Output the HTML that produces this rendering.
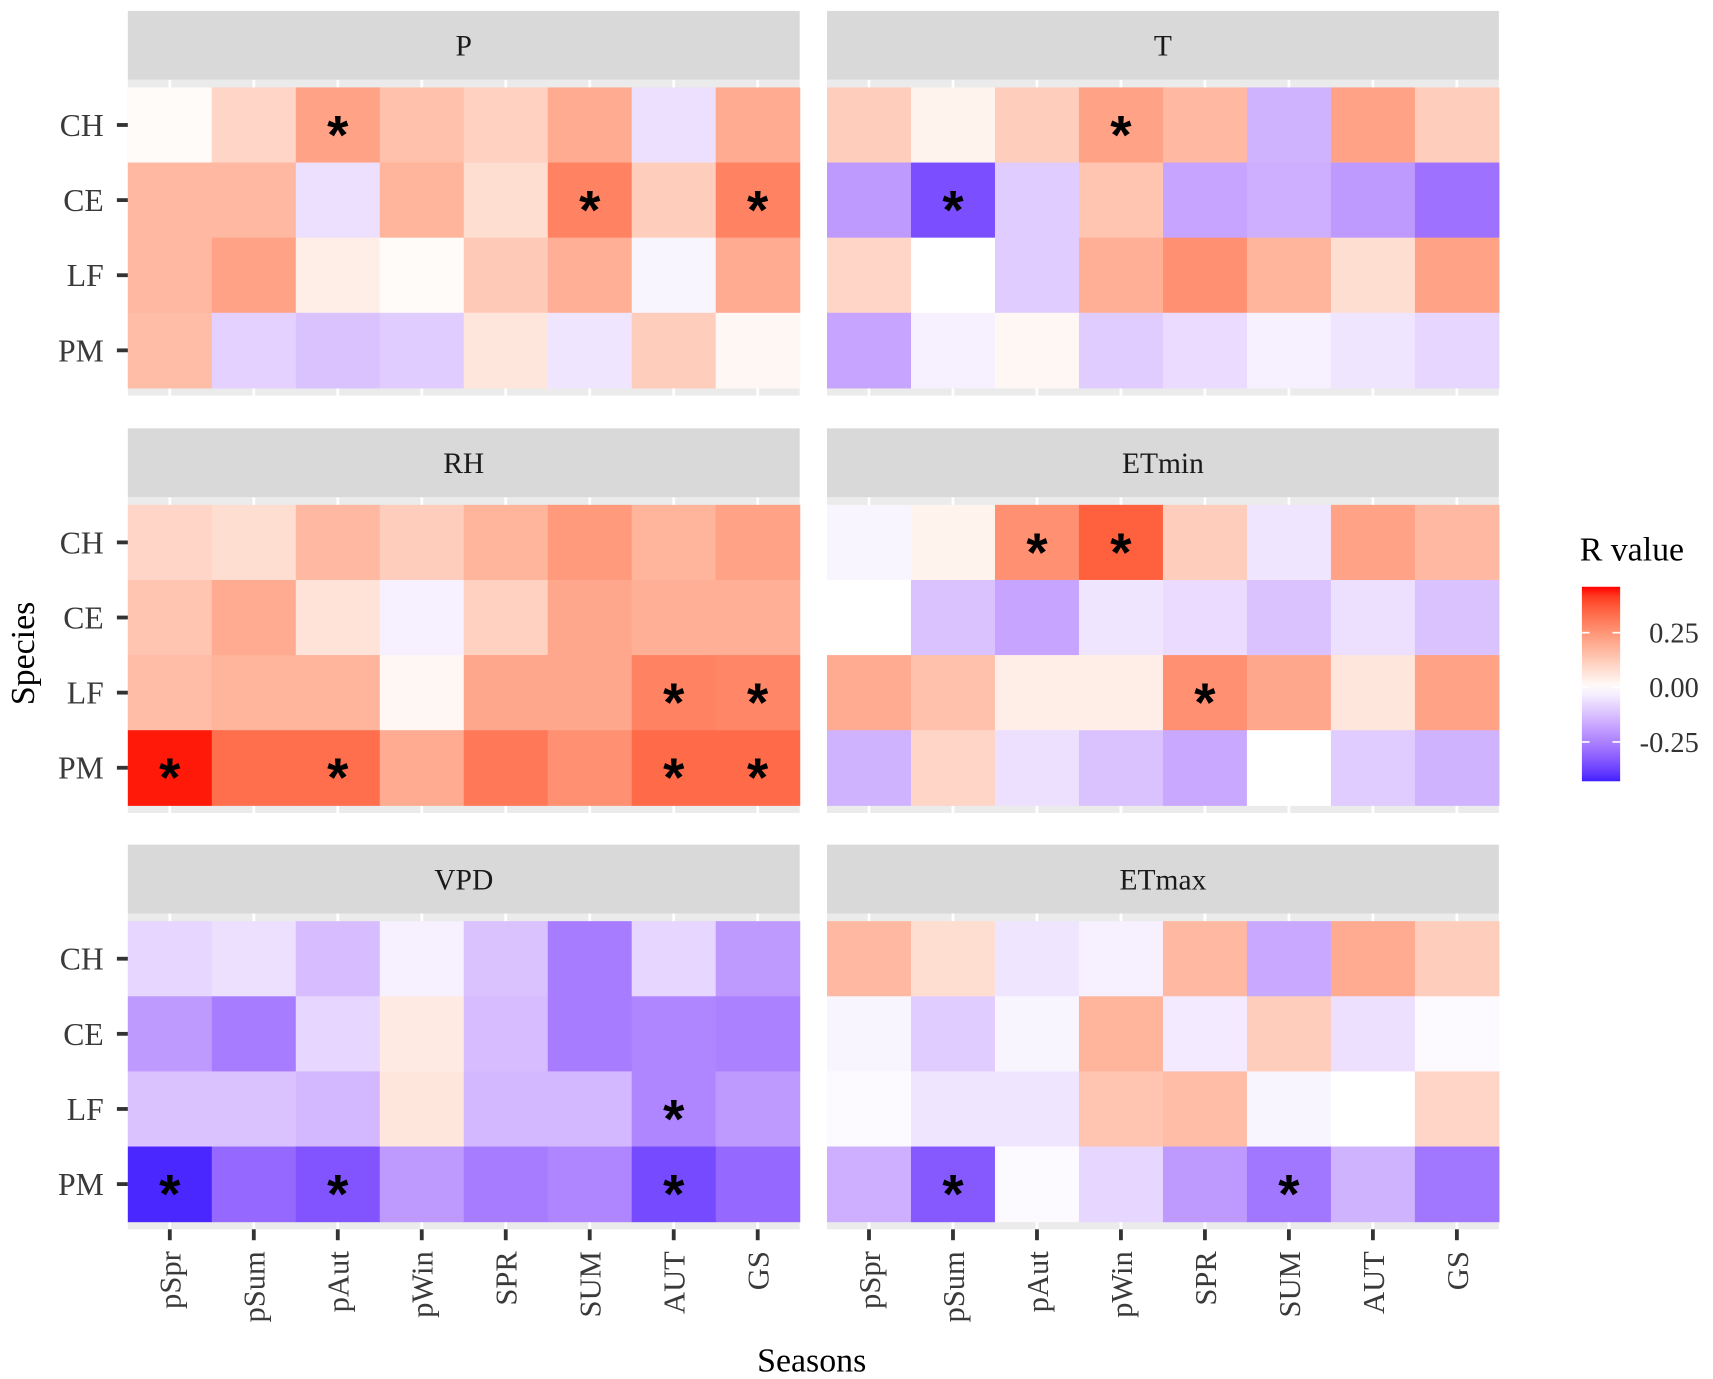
<!DOCTYPE html>
<html><head><meta charset="utf-8"><style>
html,body{margin:0;padding:0;background:#fff;}
svg{display:block;font-family:"Liberation Serif",serif;}
</style></head><body>
<svg id="chart" width="1713" height="1379" viewBox="0 0 1568 1262" preserveAspectRatio="none" xmlns="http://www.w3.org/2000/svg">
<defs><linearGradient id="lg" x1="0" y1="1" x2="0" y2="0"></linearGradient></defs>
</svg>
<script>
const seasons = ["pSpr","pSum","pAut","pWin","SPR","SUM","AUT","GS"];
const species = ["CH","CE","LF","PM"];
const panelNames = ["P","T","RH","ETmin","VPD","ETmax"];
const valsP = [[0.01,0.10,0.22,0.15,0.11,0.20,-0.06,0.20],[0.17,0.17,-0.06,0.18,0.08,0.29,0.12,0.29],[0.17,0.22,0.04,0.01,0.13,0.19,-0.02,0.20],[0.16,-0.09,-0.12,-0.10,0.06,-0.05,0.12,0.02]];
const valsT = [[0.12,0.03,0.12,0.22,0.17,-0.15,0.22,0.12],[-0.20,-0.35,-0.10,0.14,-0.18,-0.16,-0.20,-0.28],[0.10,0.00,-0.10,0.19,0.26,0.18,0.08,0.22],[-0.18,-0.03,0.02,-0.10,-0.07,-0.03,-0.05,-0.08]];
const valsRH = [[0.10,0.08,0.17,0.12,0.18,0.24,0.18,0.22],[0.14,0.20,0.07,-0.03,0.11,0.21,0.19,0.19],[0.16,0.18,0.18,0.02,0.21,0.21,0.29,0.28],[0.45,0.33,0.33,0.20,0.31,0.26,0.34,0.34]];
const valsETmin = [[-0.02,0.03,0.26,0.36,0.12,-0.05,0.22,0.17],[0.00,-0.12,-0.18,-0.05,-0.07,-0.12,-0.06,-0.12],[0.20,0.15,0.04,0.04,0.26,0.21,0.06,0.22],[-0.15,0.10,-0.06,-0.12,-0.17,0.00,-0.10,-0.15]];
const valsVPD = [[-0.08,-0.06,-0.13,-0.03,-0.12,-0.26,-0.08,-0.20],[-0.20,-0.26,-0.08,0.05,-0.13,-0.26,-0.24,-0.25],[-0.12,-0.12,-0.14,0.06,-0.14,-0.14,-0.24,-0.20],[-0.42,-0.30,-0.34,-0.20,-0.26,-0.24,-0.36,-0.30]];
const valsETmax = [[0.17,0.08,-0.05,-0.03,0.17,-0.17,0.20,0.12],[-0.02,-0.10,-0.02,0.18,-0.04,0.12,-0.06,-0.01],[-0.01,-0.05,-0.05,0.14,0.16,-0.02,0.00,0.10],[-0.16,-0.33,-0.01,-0.08,-0.20,-0.27,-0.15,-0.27]];
// significance stars: [row, col]
const starsP = [[0,2],[1,5],[1,7]];
const starsT = [[0,3],[1,1]];
const starsRH = [[2,6],[2,7],[3,0],[3,2],[3,6],[3,7]];
const starsETmin = [[0,2],[0,3],[2,4]];
const starsVPD = [[2,6],[3,0],[3,2],[3,6]];
const starsETmax = [[3,1],[3,5]];
const legendTicks = [0.25,0.00,-0.25];
const legendMin = -0.43, legendMax = 0.46;

const allVals=[valsP,valsT,valsRH,valsETmin,valsVPD,valsETmax];
const allStars=[starsP,starsT,starsRH,starsETmin,starsVPD,starsETmax];
const NS="http://www.w3.org/2000/svg";
const svg=document.getElementById('chart');
function mk(t,a,parent){const e=document.createElementNS(NS,t);for(const k in a)e.setAttribute(k,a[k]);(parent||svg).appendChild(e);return e;}
function lin(c){c/=255;return c<=0.04045?c/12.92:Math.pow((c+0.055)/1.055,2.4);}
function toLab(r,g,b){r=lin(r);g=lin(g);b=lin(b);let X=(r*0.4124+g*0.3576+b*0.1805)/0.95047,Y=r*0.2126+g*0.7152+b*0.0722,Z=(r*0.0193+g*0.1192+b*0.9505)/1.08883;const f=t=>t>0.008856?Math.cbrt(t):7.787*t+16/116;X=f(X);Y=f(Y);Z=f(Z);return[116*Y-16,500*(X-Y),200*(Y-Z)];}
function fromLab(L,a,b){let Y=(L+16)/116,X=a/500+Y,Z=Y-b/200;const fi=t=>t*t*t>0.008856?t*t*t:(t-16/116)/7.787;X=fi(X)*0.95047;Y=fi(Y);Z=fi(Z)*1.08883;let r=X*3.2406+Y*-1.5372+Z*-0.4986,g=X*-0.9689+Y*1.8758+Z*0.0415,bb=X*0.0557+Y*-0.2040+Z*1.0570;const g2=c=>{c=c<=0.0031308?12.92*c:1.055*Math.pow(c,1/2.4)-0.055;return Math.round(Math.max(0,Math.min(1,c))*255);};return`rgb(${g2(r)},${g2(g)},${g2(bb)})`;}
const LB=toLab(0,0,255),LW=toLab(255,255,255),LR=toLab(255,0,0);
const maxAbs=Math.max(Math.abs(legendMin),Math.abs(legendMax));
function color(v){let t=Math.max(-1,Math.min(1,v/maxAbs));const E=t>=0?LR:LB;t=Math.abs(t);return fromLab(LW[0]+(E[0]-LW[0])*t,LW[1]+(E[1]-LW[1])*t,LW[2]+(E[2]-LW[2])*t);}

const colX0=[117,757], gridTops=[80,462,843], panelW=615, gridH=275;
const cw=panelW/seasons.length, rh=gridH/species.length;
const xScale=(x0,i)=>x0+i*cw, yScale=(y0,j)=>y0+j*rh;
panelNames.forEach((name,p)=>{
  const x0=colX0[p%2], y0=gridTops[Math.floor(p/2)];
  const g=mk('g',{});
  
  
  const bg=mk('rect',{x:x0,y:y0-7,width:panelW,height:gridH+14,fill:'#EBEBEB'},g);
  
  
  seasons.forEach((s,i)=>{mk('line',{x1:xScale(x0,i)+cw/2,x2:xScale(x0,i)+cw/2,y1:y0-7,y2:y0+gridH+7,stroke:'#fff','stroke-width':2.5},g);});
  const strip=mk('rect',{x:x0,y:y0-70,width:panelW,height:63,fill:'#D9D9D9'},g);
  
  
  const st=mk('text',{x:x0+panelW/2,y:y0-29,'text-anchor':'middle','font-size':27,fill:'#1a1a1a'},g);
  st.textContent=name;
  
  
  const vals=allVals[p];
  species.forEach((sp,j)=>{seasons.forEach((s,i)=>{
    const c=mk('rect',{x:xScale(x0,i),y:yScale(y0,j),width:cw+0.5,height:rh+0.5,fill:color(vals[j][i])},g);
    
    
  });});
  allStars[p].forEach(([j,i])=>{
    const t=mk('text',{x:xScale(x0,i)+cw/2,y:yScale(y0,j)+rh/2+26,'text-anchor':'middle','font-size':50,'font-weight':'bold','font-family':'"Liberation Sans",sans-serif',fill:'#000'},g);
    t.textContent='*';
    
    
  });
  if(p%2===0){species.forEach((sp,j)=>{
    const cy=yScale(y0,j)+rh/2;
    mk('line',{x1:107,x2:117,y1:cy,y2:cy,stroke:'#333','stroke-width':3.5},g);
    const t=mk('text',{x:95,y:cy+10,'text-anchor':'end','font-size':29,fill:'#3a3a3a'},g);
    t.textContent=sp;
    
    
  });}
  if(p>=4){seasons.forEach((s,i)=>{
    const cx=xScale(x0,i)+cw/2;
    mk('line',{x1:cx,x2:cx,y1:y0+gridH+7,y2:y0+gridH+17,stroke:'#333','stroke-width':3.5},g);
    const t=mk('text',{x:0,y:0,'text-anchor':'end','font-size':28,fill:'#3a3a3a',transform:`translate(${cx+10},${y0+gridH+27}) rotate(-90)`},g);
    t.textContent=s;
    
    
  });}
});
const xt=mk('text',{x:743,y:1255,'text-anchor':'middle','font-size':31,fill:'#000'});
xt.textContent='Seasons';


const yt=mk('text',{x:0,y:0,'text-anchor':'middle','font-size':31,fill:'#000',transform:'translate(31,598) rotate(-90)'});
yt.textContent='Species';


const lg=document.getElementById('lg');
for(let k=0;k<=20;k++){const v=legendMin+(legendMax-legendMin)*k/20;mk('stop',{offset:(k/20),'stop-color':color(v)},lg);}
const lt=mk('text',{x:1446,y:513,'font-size':31,fill:'#000'});
lt.textContent='R value';


const barTop=537,barBot=715,barX=1448,barW=35;
const bar=mk('rect',{x:barX,y:barTop,width:barW,height:barBot-barTop,fill:'url(#lg)'});


const ly=v=>barBot-(v-legendMin)/(legendMax-legendMin)*(barBot-barTop);
legendTicks.forEach(v=>{
  const y=ly(v);
  mk('line',{x1:barX,x2:barX+7,y1:y,y2:y,stroke:'#fff','stroke-width':1.5});
  mk('line',{x1:barX+barW-7,x2:barX+barW,y1:y,y2:y,stroke:'#fff','stroke-width':1.5});
  const t=mk('text',{x:1555,y:y+9,'text-anchor':'end','font-size':26,fill:'#333'});
  t.textContent=v.toFixed(2);
  
  
});
</script>
</body></html>
